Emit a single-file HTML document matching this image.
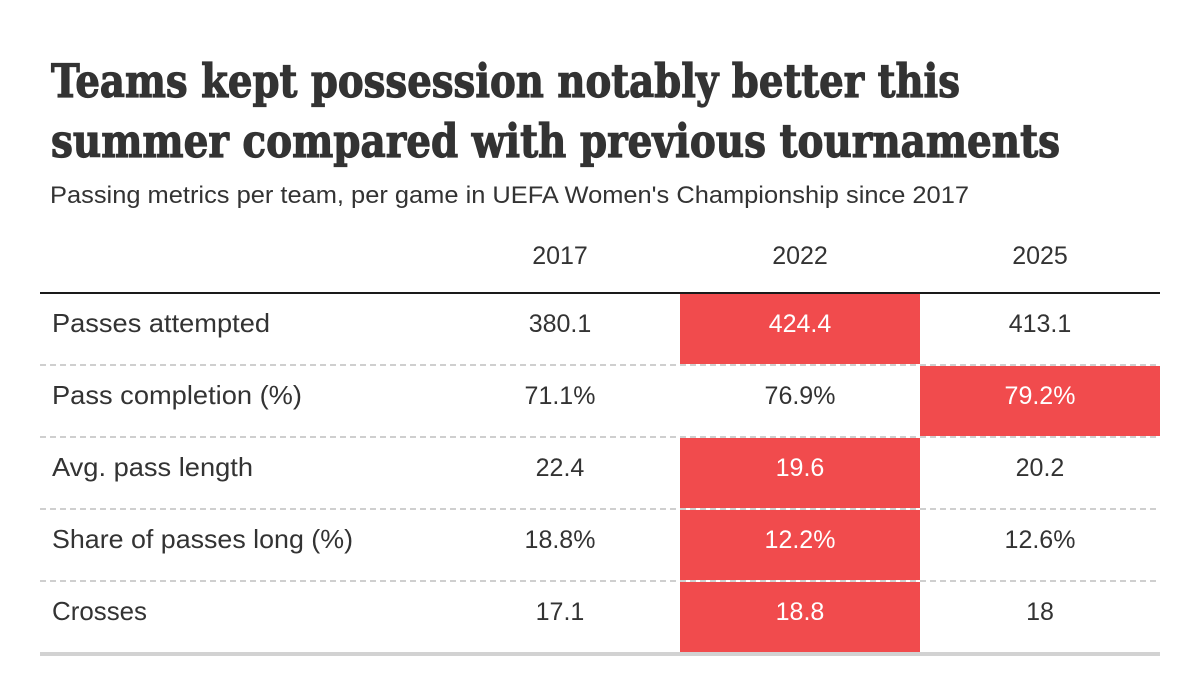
<!DOCTYPE html>
<html>
<head>
<meta charset="utf-8">
<style>
  html, body { margin: 0; padding: 0; background: #ffffff; }
  body { width: 1200px; height: 692px; overflow: hidden; }
  svg { display: block; }
  .t { font-family: "DejaVu Serif", "Liberation Serif", serif; font-weight: bold; font-size: 46px; fill: #333333; stroke: #333333; stroke-width: 1.2px; }
  .s { font-family: "Liberation Sans", sans-serif; font-size: 24px; fill: #333333; }
  .h { font-family: "Liberation Sans", sans-serif; font-size: 25px; fill: #333333; text-anchor: middle; }
  .l { font-family: "Liberation Sans", sans-serif; font-size: 26px; fill: #333333; }
  .v { font-family: "Liberation Sans", sans-serif; font-size: 25px; fill: #333333; text-anchor: middle; }
  .w { fill: #ffffff; }
</style>
</head>
<body>
<svg width="1200" height="692" viewBox="0 0 1200 692" xmlns="http://www.w3.org/2000/svg">
  <rect x="0" y="0" width="1200" height="692" fill="#ffffff"/>

  <!-- Title -->
  <text class="t" x="51" y="97" textLength="909" lengthAdjust="spacingAndGlyphs">Teams kept possession notably better this</text>
  <text class="t" x="51" y="157" textLength="1009" lengthAdjust="spacingAndGlyphs">summer compared with previous tournaments</text>

  <!-- Subtitle -->
  <text class="s" x="50" y="203" textLength="919" lengthAdjust="spacingAndGlyphs">Passing metrics per team, per game in UEFA Women's Championship since 2017</text>

  <!-- Header -->
  <text class="h" x="560" y="264">2017</text>
  <text class="h" x="800" y="264">2022</text>
  <text class="h" x="1040" y="264">2025</text>

  <!-- Red highlight cells -->
  <rect x="680" y="294" width="240" height="70" fill="#f14b4d"/>
  <rect x="920" y="366" width="240" height="70" fill="#f14b4d"/>
  <rect x="680" y="438" width="240" height="70" fill="#f14b4d"/>
  <rect x="680" y="510" width="240" height="70" fill="#f14b4d"/>
  <rect x="680" y="582" width="240" height="70" fill="#f14b4d"/>

  <!-- Header rule -->
  <rect x="40" y="292" width="1120" height="2" fill="#1a1a1a"/>

  <!-- Dashed row separators -->
  <g stroke="#cfcfcf" stroke-width="2" stroke-dasharray="6 4">
    <line x1="40" y1="365" x2="1160" y2="365"/>
    <line x1="40" y1="437" x2="1160" y2="437"/>
    <line x1="40" y1="509" x2="1160" y2="509"/>
    <line x1="40" y1="581" x2="1160" y2="581"/>
  </g>

  <!-- Bottom rule -->
  <rect x="40" y="652" width="1120" height="4" fill="#d2d2d2"/>

  <!-- Row 1 -->
  <text class="l" x="52" y="332" textLength="218" lengthAdjust="spacingAndGlyphs">Passes attempted</text>
  <text class="v" x="560" y="332">380.1</text>
  <text class="v w" x="800" y="332">424.4</text>
  <text class="v" x="1040" y="332">413.1</text>

  <!-- Row 2 -->
  <text class="l" x="52" y="404" textLength="250" lengthAdjust="spacingAndGlyphs">Pass completion (%)</text>
  <text class="v" x="560" y="404">71.1%</text>
  <text class="v" x="800" y="404">76.9%</text>
  <text class="v w" x="1040" y="404">79.2%</text>

  <!-- Row 3 -->
  <text class="l" x="52" y="476" textLength="201" lengthAdjust="spacingAndGlyphs">Avg. pass length</text>
  <text class="v" x="560" y="476">22.4</text>
  <text class="v w" x="800" y="476">19.6</text>
  <text class="v" x="1040" y="476">20.2</text>

  <!-- Row 4 -->
  <text class="l" x="52" y="548" textLength="301" lengthAdjust="spacingAndGlyphs">Share of passes long (%)</text>
  <text class="v" x="560" y="548">18.8%</text>
  <text class="v w" x="800" y="548">12.2%</text>
  <text class="v" x="1040" y="548">12.6%</text>

  <!-- Row 5 -->
  <text class="l" x="52" y="620" textLength="95" lengthAdjust="spacingAndGlyphs">Crosses</text>
  <text class="v" x="560" y="620">17.1</text>
  <text class="v w" x="800" y="620">18.8</text>
  <text class="v" x="1040" y="620">18</text>
</svg>
</body>
</html>
